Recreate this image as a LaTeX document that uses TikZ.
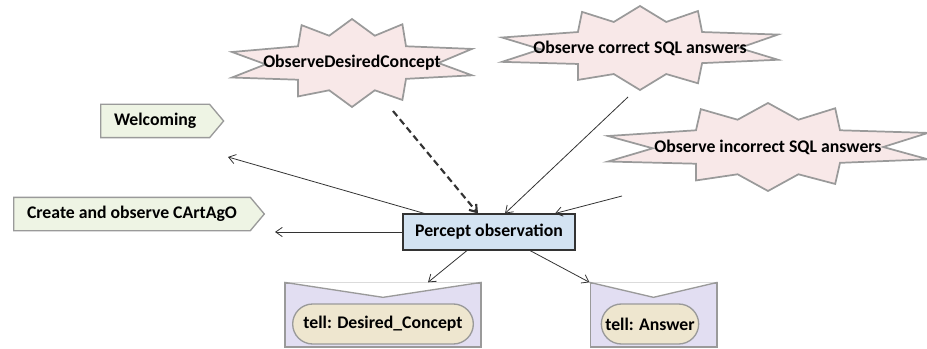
\documentclass[tikz,border=0pt]{standalone}
\usepackage{fontspec}
\setmainfont{Carlito}
\usepackage{tikz}
\usetikzlibrary{calc,backgrounds,positioning,shapes,arrows,arrows.meta}

\definecolor{burstfill}{HTML}{F8E8E8}
\definecolor{planfill}{HTML}{EEF4E4}
\definecolor{boxfill}{HTML}{D3E3F2}
\definecolor{msgfill}{HTML}{E2DEF2}
\definecolor{tellfill}{HTML}{EEE6CF}
\definecolor{edgegray}{HTML}{9A9A9A}

% irregular burst drawn behind a named text node
\newcommand{\burstshape}[3]{%
  \begin{scope}[on background layer,shift={(#1)},xscale=#2,yscale=#3]
    \draw[burst] (0,1) -- (0.19,0.62) -- (0.42,0.84) -- (0.45,0.36) -- (1,0.28)
      -- (0.72,0) -- (1,-0.32) -- (0.45,-0.38) -- (0.42,-0.88) -- (0.19,-0.62)
      -- (0,-1) -- (-0.19,-0.62) -- (-0.42,-0.86) -- (-0.45,-0.38) -- (-1,-0.25)
      -- (-0.72,0.03) -- (-1,0.33) -- (-0.45,0.38) -- (-0.45,0.76) -- (-0.19,0.62) -- cycle;
  \end{scope}}

\begin{document}
\begin{tikzpicture}[x=0.75pt,y=-0.75pt,
    every node/.style={font=\fontsize{13.3}{16}\selectfont\bfseries},
    burst/.style={draw=edgegray,fill=burstfill,line width=1.3pt,line join=miter},
    plan/.style={signal,signal to=east,signal pointer angle=100,draw=edgegray,fill=planfill,
      line width=1pt,minimum height=25pt,inner xsep=10pt,anchor=west},
    percept/.style={draw=black!80,fill=boxfill,line width=0.8pt,minimum height=27pt,
      minimum width=129pt},
    message/.style={draw=edgegray,fill=msgfill,line width=1pt,minimum height=48pt},
    tell/.style={rounded rectangle,draw=edgegray,fill=tellfill,line width=1pt,minimum height=30pt,
      inner xsep=2pt},
    link/.style={draw=black!80,line width=0.6pt,->,>={Straight Barb[length=5pt,width=7pt]}}]
  \useasboundingbox (0,0) rectangle (927,349);

  % events
  \node (obsD) at (352,63) {ObserveDesiredConcept};
  \burstshape{obsD}{120}{44}
  \node (obsC) at (640,48) {Observe correct SQL answers};
  \burstshape{obsC}{138}{42}
  \node (obsI) at (768,147) {Observe incorrect SQL answers};
  \burstshape{obsI}{160}{44}

  % plans
  \node[plan] (welcome) at (100,121) {Welcoming};
  \node[plan] (cartago) at (13,214) {Create and observe CArtAgO};
  \coordinate (wend) at (228,157);
  \coordinate (cend) at (275,232);

  \node[percept] (percept) at (489,232) {Percept observation};

  % messages
  \node[message,minimum width=147pt] (msgD) at (383,315) {};
  \node[message,minimum width=95pt] (msgA) at (653.5,315) {};
  \foreach \m in {msgD,msgA}
    \draw[draw=edgegray,fill=white,line width=1pt] (\m.north west) -- ($(\m.north)+(0,15)$) -- (\m.north east);
  \node[tell,minimum width=139.5pt] (tellD) at (383,324) {tell: Desired\_Concept};
  \node[tell,minimum width=77pt] (tellA) at (650,324) {tell: Answer};

  % connectors
  \draw[link,line width=1.6pt,dash pattern=on 5pt off 3pt] ($(obsD)+(41,48)$) -- ($(percept.north)+(-11,0)$);
  \draw[link] ($(obsC)+(-12,49)$) -- ($(percept.north)+(16,0)$);
  \draw[link] ($(obsI)+(-146,49)$) -- ($(percept.north)+(66,0)$);
  \draw[link] (percept) -- (wend);
  \draw[link] (percept) -- (cend);
  \draw[link] ($(percept.south)+(-22,0)$) -- ($(msgD.north)+(45,0)$);
  \draw[link] ($(percept.south)+(41,0)$) -- (msgA.north west);
\end{tikzpicture}
\end{document}
